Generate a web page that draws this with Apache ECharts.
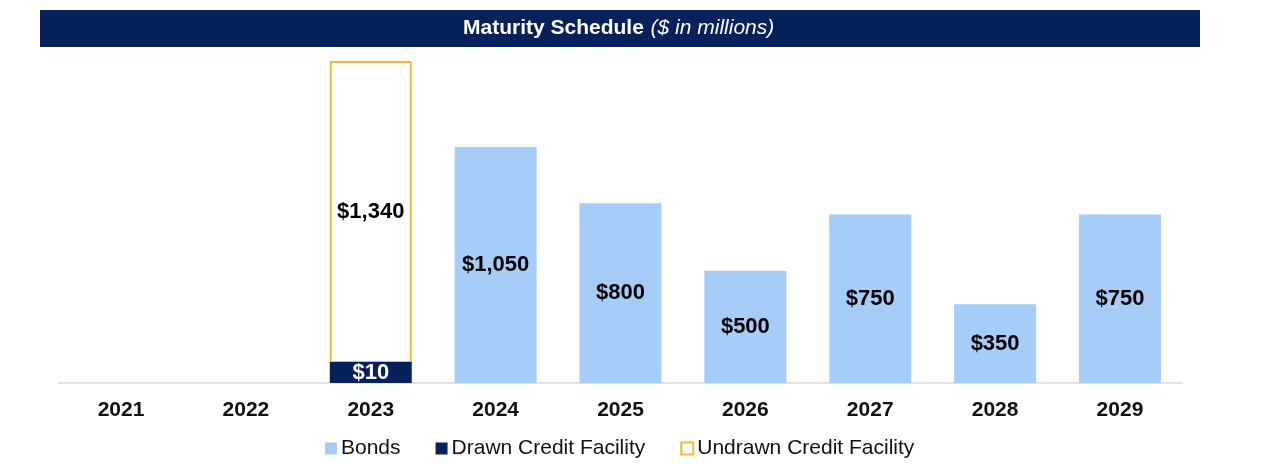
<!DOCTYPE html>
<html><head><meta charset="utf-8">
<script src="https://cdn.jsdelivr.net/npm/echarts@6/dist/echarts.min.js"></script>
<style>html,body{margin:0;padding:0;background:#fff}#c{width:1280px;height:469px}</style>
</head><body><div id="c"></div>
<script>
const years = ['2021','2022','2023','2024','2025','2026','2027','2028','2029'];
const bonds = [null, null, null, 1050, 800, 500, 750, 350, 750];
const drawn = [null, null, 10, null, null, null, null, null, null];
const undrawn = [null, null, 1340, null, null, null, null, null, null];

const NAVY = '#06215b', BLUE = '#a6cdf8', GOLD = '#f5b92f';
const FONT = '"Liberation Sans", Arial, sans-serif';
const MIN_H = 21;

const chart = echarts.init(document.getElementById('c'), null, {renderer: 'canvas'});
const fmt = v => '$' + Number(v).toLocaleString('en-US');

chart.setOption({
  animation: false,
  textStyle: {fontFamily: FONT},
  graphic: [
    {type: 'rect', left: 40, top: 10, shape: {width: 1160, height: 37}, style: {fill: NAVY}},
    {type: 'text', left: 463, top: 18, style: {
      text: '{b|Maturity Schedule}  {i|($ in millions)}',
      rich: {
        b: {fill: '#fff', font: 'bold 21px ' + FONT},
        i: {fill: '#fff', font: 'italic 21px ' + FONT}
      }
    }}
  ],
  legend: {
    top: 438, left: 325, padding: 0,
    itemWidth: 12, itemHeight: 12, itemGap: 35,
    textStyle: {fontSize: 21, color: '#111', fontFamily: FONT, padding: [0, 0, 0, -1]},
    data: [
      {name: 'Bonds', icon: 'rect'},
      {name: 'Drawn Credit Facility', icon: 'rect'},
      {name: 'Undrawn Credit Facility', icon: 'rect', itemStyle: {color: '#fff', borderColor: GOLD, borderWidth: 2}}
    ]
  },
  grid: {left: 58.6, right: 97.6, top: 46, bottom: 86},
  xAxis: {
    type: 'category', data: years,
    axisLine: {lineStyle: {color: '#d9d9d9', width: 1.5}},
    axisTick: {show: false},
    axisLabel: {fontSize: 21, fontWeight: 'bold', color: '#111', margin: 17, fontFamily: FONT}
  },
  yAxis: {type: 'value', min: 0, max: 1500, show: false, splitLine: {show: false}},
  series: [
    {
      name: 'Bonds', type: 'bar', data: bonds, barWidth: 82, barGap: '-100%',
      itemStyle: {color: BLUE},
      label: {show: true, position: 'inside', formatter: p => fmt(p.value), fontSize: 22, fontWeight: 'bold', color: '#000', fontFamily: FONT}
    },
    {
      name: 'Drawn Credit Facility', type: 'bar', data: drawn, barWidth: 82, barMinHeight: MIN_H,
      itemStyle: {color: NAVY},
      label: {show: true, position: 'inside', formatter: p => fmt(p.value), fontSize: 22, fontWeight: 'bold', color: '#fff', fontFamily: FONT}
    },
    {
      name: 'Undrawn Credit Facility', type: 'custom',
      itemStyle: {color: '#fff', borderColor: GOLD, borderWidth: 2},
      data: undrawn.map((v, i) => v == null ? null : [i, v, drawn[i] || 0]).filter(d => d),
      renderItem: (params, api) => {
        const idx = api.value(0);
        const base = api.coord([idx, 0]);
        const dH = Math.max(api.size([0, api.value(2)])[1], MIN_H);
        const h = api.size([0, api.value(1)])[1];
        const w = 82;
        const bottom = base[1] - dH;
        return {
          type: 'group',
          children: [
            {type: 'rect', shape: {x: base[0] - w / 2 + 1, y: bottom - h + 1, width: w - 2, height: h - 1},
             style: {fill: 'rgba(255,255,255,0)', stroke: GOLD, lineWidth: 2}},
            {type: 'text', style: {text: fmt(api.value(1)), x: base[0], y: bottom - h / 2,
              align: 'center', verticalAlign: 'middle', fill: '#000', font: 'bold 22px ' + FONT}}
          ]
        };
      }
    }
  ]
});
</script></body></html>
